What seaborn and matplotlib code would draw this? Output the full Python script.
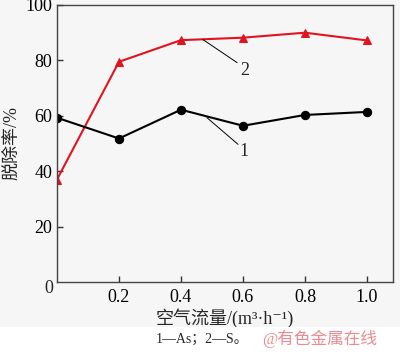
import matplotlib
import matplotlib.pyplot as plt
import seaborn as sns
from pandas import DataFrame

matplotlib.use("Agg")

# air flow rate (m3/h) and removal rates (%)
flow = [0.0, 0.2, 0.4, 0.6, 0.8, 1.0]
as_removal = [59.3, 51.8, 62.2, 56.4, 60.3, 61.4]
s_removal = [37.0, 79.5, 87.3, 88.2, 90.0, 87.2]
x_ticks = [0.2, 0.4, 0.6, 0.8, 1.0]
y_ticks = [20, 40, 60, 80, 100]

sns.set_style("ticks")
plt.rcParams["font.family"] = ["Liberation Serif", "Noto Sans CJK SC", "DejaVu Sans"]

df = DataFrame({"flow": flow, "As": as_removal, "S": s_removal})

fig = plt.figure(figsize=(4, 3.54), dpi=100, facecolor="#f6f6f6")
# white strip under the chart for the caption
fig.patches.append(
    plt.Rectangle((0, 0), 1, 0.075, transform=fig.transFigure, facecolor="white",
                  edgecolor="none", zorder=0)
)
ax = fig.add_axes([0.1425, 0.2034, 0.84, 0.7825])
ax.set_facecolor("#f6f6f6")

sns.lineplot(data=df, x="flow", y="S", ax=ax, color="#e0141e", marker="^",
             markersize=6, markeredgecolor="#e0141e", linewidth=1.5)
sns.lineplot(data=df, x="flow", y="As", ax=ax, color="black", marker="o",
             markersize=6, markeredgecolor="black", linewidth=1.5)

ax.set_xlim(0, 1.084)
ax.set_ylim(0, 100)
ax.set_xticks(x_ticks)
ax.set_xticklabels(["0.2", "0.4", "0.6", "0.8", "1.0"])
ax.set_yticks(y_ticks)
ax.tick_params(direction="in", length=4, width=1, colors="#333333",
               labelsize=13, labelcolor="black")
ax.tick_params(axis="x", pad=5)
for sp in ax.spines.values():
    sp.set_color("#444444")
    sp.set_linewidth(1.0)
# shared origin label sits below the corner
ax.text(-0.012, -0.025, "0", transform=ax.transAxes, fontsize=13,
        ha="right", va="center")

ax.set_xlabel("空气流量/(m³·h⁻¹)", fontsize=13, labelpad=2)
ax.set_ylabel("脱除率/%", fontsize=13)
ax.yaxis.set_label_coords(-0.11, 0.5)

# curve labels with leader lines
ax.plot([0.471, 0.581], [87.5, 79.2], color="black", linewidth=0.7)
ax.text(0.59, 76.5, "2", fontsize=13, va="center", ha="left")
ax.plot([0.484, 0.584], [59.3, 49.7], color="black", linewidth=0.7)
ax.text(0.59, 47.0, "1", fontsize=13, va="center", ha="left")

fig.text(0.39, 0.04, "1—As；2—S。", fontsize=10, va="center", ha="left")
fig.text(0.655, 0.043, "@有色金属在线", fontsize=12, va="center", ha="left",
         color="#ec8a90")

fig.savefig("out.png", dpi=100, facecolor=fig.get_facecolor())
